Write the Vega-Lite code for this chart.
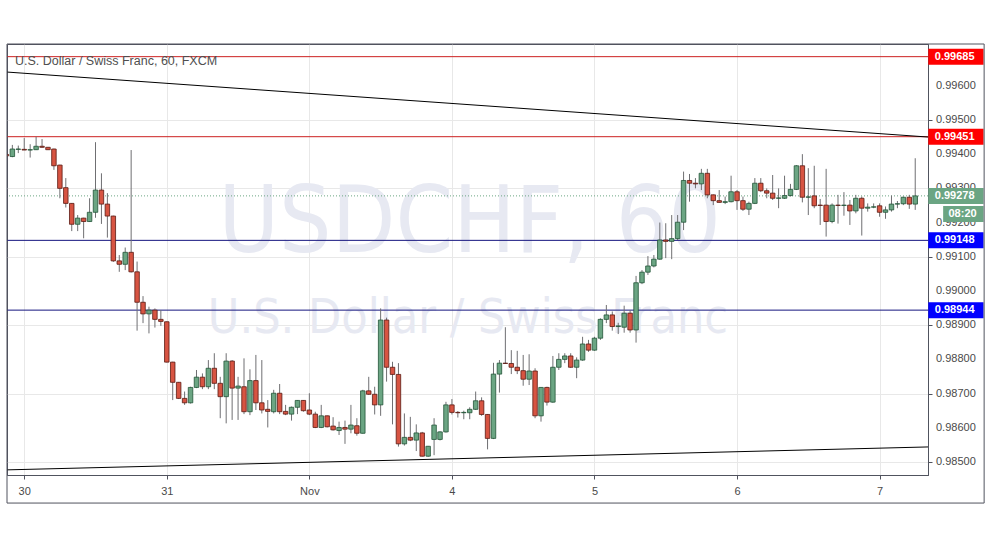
{
"$schema": "https://vega.github.io/schema/vega-lite/v6.json",
"width": 921, "height": 431,
"autosize": {"type": "none"},
"padding": {"left": 7, "top": 44, "right": 63, "bottom": 64},
"background": "white",
"config": {"view": {"stroke": "#50535e", "strokeWidth": 1}, "font": "Liberation Sans", "scale": {"continuousPadding": 0}, "axis": {"labelOverlap": false, "labelBound": false}},
"datasets": {
"candles": [
{"k":0,"o":0.99399,"h":0.99401,"l":0.99393,"c":0.99395},
{"k":1,"o":0.99393,"h":0.99427,"l":0.99391,"c":0.99415},
{"k":2,"o":0.99414,"h":0.99425,"l":0.99403,"c":0.99415},
{"k":3,"o":0.99414,"h":0.99447,"l":0.99412,"c":0.99412},
{"k":4,"o":0.99412,"h":0.99429,"l":0.99390,"c":0.99413},
{"k":5,"o":0.99413,"h":0.99451,"l":0.99412,"c":0.99423},
{"k":6,"o":0.99423,"h":0.99444,"l":0.99419,"c":0.99420},
{"k":7,"o":0.99420,"h":0.99421,"l":0.99412,"c":0.99413},
{"k":8,"o":0.99415,"h":0.99416,"l":0.99354,"c":0.99366},
{"k":9,"o":0.99368,"h":0.99369,"l":0.99271,"c":0.99300},
{"k":10,"o":0.99302,"h":0.99330,"l":0.99244,"c":0.99256},
{"k":11,"o":0.99256,"h":0.99257,"l":0.99175,"c":0.99195},
{"k":12,"o":0.99195,"h":0.99222,"l":0.99175,"c":0.99213},
{"k":13,"o":0.99213,"h":0.99214,"l":0.99154,"c":0.99203},
{"k":14,"o":0.99203,"h":0.99271,"l":0.99202,"c":0.99230},
{"k":15,"o":0.99230,"h":0.99435,"l":0.99214,"c":0.99295},
{"k":16,"o":0.99295,"h":0.99344,"l":0.99196,"c":0.99254},
{"k":17,"o":0.99254,"h":0.99286,"l":0.99156,"c":0.99219},
{"k":18,"o":0.99219,"h":0.99220,"l":0.99085,"c":0.99088},
{"k":19,"o":0.99088,"h":0.99105,"l":0.99056,"c":0.99078},
{"k":20,"o":0.99078,"h":0.99127,"l":0.99061,"c":0.99113},
{"k":21,"o":0.99113,"h":0.99412,"l":0.99054,"c":0.99056},
{"k":22,"o":0.99056,"h":0.99086,"l":0.98884,"c":0.98967},
{"k":23,"o":0.98967,"h":0.98985,"l":0.98906,"c":0.98933},
{"k":24,"o":0.98933,"h":0.98954,"l":0.98876,"c":0.98944},
{"k":25,"o":0.98944,"h":0.98949,"l":0.98893,"c":0.98917},
{"k":26,"o":0.98917,"h":0.98944,"l":0.98898,"c":0.98911},
{"k":27,"o":0.98910,"h":0.98911,"l":0.98791,"c":0.98792},
{"k":28,"o":0.98792,"h":0.98793,"l":0.98681,"c":0.98733},
{"k":29,"o":0.98733,"h":0.98734,"l":0.98684,"c":0.98686},
{"k":30,"o":0.98686,"h":0.98706,"l":0.98667,"c":0.98673},
{"k":31,"o":0.98673,"h":0.98720,"l":0.98671,"c":0.98718},
{"k":32,"o":0.98718,"h":0.98769,"l":0.98716,"c":0.98748},
{"k":33,"o":0.98748,"h":0.98759,"l":0.98713,"c":0.98720},
{"k":34,"o":0.98720,"h":0.98798,"l":0.98713,"c":0.98774},
{"k":35,"o":0.98774,"h":0.98818,"l":0.98713,"c":0.98730},
{"k":36,"o":0.98730,"h":0.98749,"l":0.98628,"c":0.98691},
{"k":37,"o":0.98691,"h":0.98818,"l":0.98613,"c":0.98795},
{"k":38,"o":0.98795,"h":0.98798,"l":0.98623,"c":0.98716},
{"k":39,"o":0.98716,"h":0.98749,"l":0.98623,"c":0.98722},
{"k":40,"o":0.98720,"h":0.98803,"l":0.98640,"c":0.98647},
{"k":41,"o":0.98647,"h":0.98771,"l":0.98637,"c":0.98738},
{"k":42,"o":0.98738,"h":0.98813,"l":0.98652,"c":0.98673},
{"k":43,"o":0.98673,"h":0.98798,"l":0.98642,"c":0.98652},
{"k":44,"o":0.98654,"h":0.98681,"l":0.98601,"c":0.98648},
{"k":45,"o":0.98647,"h":0.98711,"l":0.98642,"c":0.98701},
{"k":46,"o":0.98701,"h":0.98728,"l":0.98640,"c":0.98647},
{"k":47,"o":0.98648,"h":0.98667,"l":0.98637,"c":0.98640},
{"k":48,"o":0.98640,"h":0.98662,"l":0.98621,"c":0.98660},
{"k":49,"o":0.98660,"h":0.98681,"l":0.98640,"c":0.98680},
{"k":50,"o":0.98680,"h":0.98681,"l":0.98647,"c":0.98650},
{"k":51,"o":0.98652,"h":0.98701,"l":0.98637,"c":0.98640},
{"k":52,"o":0.98640,"h":0.98647,"l":0.98599,"c":0.98601},
{"k":53,"o":0.98601,"h":0.98667,"l":0.98599,"c":0.98635},
{"k":54,"o":0.98635,"h":0.98636,"l":0.98601,"c":0.98603},
{"k":55,"o":0.98605,"h":0.98631,"l":0.98592,"c":0.98594},
{"k":56,"o":0.98592,"h":0.98618,"l":0.98579,"c":0.98601},
{"k":57,"o":0.98601,"h":0.98621,"l":0.98553,"c":0.98596},
{"k":58,"o":0.98596,"h":0.98667,"l":0.98584,"c":0.98608},
{"k":59,"o":0.98606,"h":0.98628,"l":0.98577,"c":0.98584},
{"k":60,"o":0.98584,"h":0.98711,"l":0.98583,"c":0.98708},
{"k":61,"o":0.98708,"h":0.98749,"l":0.98696,"c":0.98698},
{"k":62,"o":0.98698,"h":0.98720,"l":0.98639,"c":0.98667},
{"k":63,"o":0.98667,"h":0.98949,"l":0.98635,"c":0.98915},
{"k":64,"o":0.98915,"h":0.98922,"l":0.98735,"c":0.98777},
{"k":65,"o":0.98777,"h":0.98793,"l":0.98610,"c":0.98756},
{"k":66,"o":0.98756,"h":0.98789,"l":0.98545,"c":0.98553},
{"k":67,"o":0.98553,"h":0.98642,"l":0.98548,"c":0.98572},
{"k":68,"o":0.98572,"h":0.98632,"l":0.98561,"c":0.98564},
{"k":69,"o":0.98564,"h":0.98610,"l":0.98532,"c":0.98585},
{"k":70,"o":0.98585,"h":0.98588,"l":0.98516,"c":0.98517},
{"k":71,"o":0.98517,"h":0.98547,"l":0.98515,"c":0.98546},
{"k":72,"o":0.98566,"h":0.98628,"l":0.98520,"c":0.98608},
{"k":73,"o":0.98566,"h":0.98590,"l":0.98563,"c":0.98588},
{"k":74,"o":0.98588,"h":0.98676,"l":0.98586,"c":0.98667},
{"k":75,"o":0.98667,"h":0.98684,"l":0.98639,"c":0.98645},
{"k":76,"o":0.98645,"h":0.98649,"l":0.98630,"c":0.98644},
{"k":77,"o":0.98644,"h":0.98650,"l":0.98625,"c":0.98645},
{"k":78,"o":0.98644,"h":0.98660,"l":0.98625,"c":0.98654},
{"k":79,"o":0.98654,"h":0.98706,"l":0.98652,"c":0.98679},
{"k":80,"o":0.98679,"h":0.98689,"l":0.98635,"c":0.98639},
{"k":81,"o":0.98639,"h":0.98640,"l":0.98537,"c":0.98569},
{"k":82,"o":0.98569,"h":0.98790,"l":0.98567,"c":0.98757},
{"k":83,"o":0.98757,"h":0.98798,"l":0.98703,"c":0.98789},
{"k":84,"o":0.98789,"h":0.98894,"l":0.98787,"c":0.98788},
{"k":85,"o":0.98788,"h":0.98827,"l":0.98757,"c":0.98777},
{"k":86,"o":0.98777,"h":0.98825,"l":0.98757,"c":0.98767},
{"k":87,"o":0.98767,"h":0.98813,"l":0.98723,"c":0.98742},
{"k":88,"o":0.98742,"h":0.98815,"l":0.98725,"c":0.98766},
{"k":89,"o":0.98766,"h":0.98774,"l":0.98628,"c":0.98635},
{"k":90,"o":0.98635,"h":0.98719,"l":0.98618,"c":0.98718},
{"k":91,"o":0.98718,"h":0.98720,"l":0.98665,"c":0.98675},
{"k":92,"o":0.98675,"h":0.98810,"l":0.98673,"c":0.98777},
{"k":93,"o":0.98777,"h":0.98818,"l":0.98769,"c":0.98800},
{"k":94,"o":0.98800,"h":0.98818,"l":0.98789,"c":0.98810},
{"k":95,"o":0.98810,"h":0.98818,"l":0.98775,"c":0.98777},
{"k":96,"o":0.98777,"h":0.98806,"l":0.98745,"c":0.98798},
{"k":97,"o":0.98798,"h":0.98866,"l":0.98796,"c":0.98845},
{"k":98,"o":0.98845,"h":0.98857,"l":0.98822,"c":0.98827},
{"k":99,"o":0.98827,"h":0.98866,"l":0.98825,"c":0.98862},
{"k":100,"o":0.98862,"h":0.98920,"l":0.98857,"c":0.98917},
{"k":101,"o":0.98917,"h":0.98959,"l":0.98906,"c":0.98930},
{"k":102,"o":0.98930,"h":0.98940,"l":0.98884,"c":0.98896},
{"k":103,"o":0.98896,"h":0.98907,"l":0.98874,"c":0.98898},
{"k":104,"o":0.98894,"h":0.98957,"l":0.98878,"c":0.98935},
{"k":105,"o":0.98935,"h":0.98944,"l":0.98878,"c":0.98886},
{"k":106,"o":0.98886,"h":0.99044,"l":0.98849,"c":0.99024},
{"k":107,"o":0.99024,"h":0.99061,"l":0.99020,"c":0.99055},
{"k":108,"o":0.99055,"h":0.99102,"l":0.99047,"c":0.99073},
{"k":109,"o":0.99073,"h":0.99105,"l":0.99069,"c":0.99093},
{"k":110,"o":0.99093,"h":0.99200,"l":0.99091,"c":0.99149},
{"k":111,"o":0.99149,"h":0.99198,"l":0.99096,"c":0.99145},
{"k":112,"o":0.99145,"h":0.99222,"l":0.99093,"c":0.99153},
{"k":113,"o":0.99153,"h":0.99222,"l":0.99149,"c":0.99201},
{"k":114,"o":0.99201,"h":0.99349,"l":0.99178,"c":0.99323},
{"k":115,"o":0.99323,"h":0.99342,"l":0.99261,"c":0.99315},
{"k":116,"o":0.99315,"h":0.99330,"l":0.99300,"c":0.99313},
{"k":117,"o":0.99313,"h":0.99357,"l":0.99295,"c":0.99344},
{"k":118,"o":0.99344,"h":0.99357,"l":0.99271,"c":0.99281},
{"k":119,"o":0.99281,"h":0.99282,"l":0.99251,"c":0.99264},
{"k":120,"o":0.99264,"h":0.99295,"l":0.99258,"c":0.99259},
{"k":121,"o":0.99259,"h":0.99276,"l":0.99254,"c":0.99261},
{"k":122,"o":0.99261,"h":0.99337,"l":0.99259,"c":0.99290},
{"k":123,"o":0.99290,"h":0.99295,"l":0.99237,"c":0.99264},
{"k":124,"o":0.99264,"h":0.99276,"l":0.99234,"c":0.99239},
{"k":125,"o":0.99239,"h":0.99261,"l":0.99222,"c":0.99256},
{"k":126,"o":0.99256,"h":0.99330,"l":0.99254,"c":0.99315},
{"k":127,"o":0.99315,"h":0.99330,"l":0.99289,"c":0.99293},
{"k":128,"o":0.99293,"h":0.99300,"l":0.99271,"c":0.99286},
{"k":129,"o":0.99286,"h":0.99339,"l":0.99266,"c":0.99271},
{"k":130,"o":0.99271,"h":0.99300,"l":0.99242,"c":0.99272},
{"k":131,"o":0.99271,"h":0.99337,"l":0.99269,"c":0.99279},
{"k":132,"o":0.99279,"h":0.99313,"l":0.99276,"c":0.99297},
{"k":133,"o":0.99297,"h":0.99368,"l":0.99295,"c":0.99366},
{"k":134,"o":0.99366,"h":0.99400,"l":0.99259,"c":0.99274},
{"k":135,"o":0.99274,"h":0.99359,"l":0.99222,"c":0.99275},
{"k":136,"o":0.99278,"h":0.99366,"l":0.99242,"c":0.99249},
{"k":137,"o":0.99251,"h":0.99269,"l":0.99193,"c":0.99250},
{"k":138,"o":0.99251,"h":0.99357,"l":0.99159,"c":0.99203},
{"k":139,"o":0.99203,"h":0.99256,"l":0.99198,"c":0.99251},
{"k":140,"o":0.99251,"h":0.99281,"l":0.99197,"c":0.99250},
{"k":141,"o":0.99250,"h":0.99289,"l":0.99220,"c":0.99251},
{"k":142,"o":0.99251,"h":0.99266,"l":0.99193,"c":0.99234},
{"k":143,"o":0.99234,"h":0.99281,"l":0.99227,"c":0.99271},
{"k":144,"o":0.99271,"h":0.99276,"l":0.99162,"c":0.99242},
{"k":145,"o":0.99242,"h":0.99256,"l":0.99232,"c":0.99245},
{"k":146,"o":0.99245,"h":0.99256,"l":0.99242,"c":0.99246},
{"k":147,"o":0.99249,"h":0.99256,"l":0.99217,"c":0.99230},
{"k":148,"o":0.99230,"h":0.99247,"l":0.99211,"c":0.99237},
{"k":149,"o":0.99237,"h":0.99279,"l":0.99232,"c":0.99254},
{"k":150,"o":0.99254,"h":0.99263,"l":0.99242,"c":0.99255},
{"k":151,"o":0.99255,"h":0.99276,"l":0.99251,"c":0.99274},
{"k":152,"o":0.99274,"h":0.99281,"l":0.99240,"c":0.99254},
{"k":153,"o":0.99254,"h":0.99388,"l":0.99237,"c":0.99278}
],
"levels": [
{"p":0.99685,"kind":"resistance"},
{"p":0.99451,"kind":"resistance"},
{"p":0.99148,"kind":"support"},
{"p":0.98944,"kind":"support"}
],
"tags": [
{"p":0.99685,"label":"0.99685","kind":"resistance"},
{"p":0.99451,"label":"0.99451","kind":"resistance"},
{"p":0.99278,"label":"0.99278","kind":"price"},
{"p":0.99148,"label":"0.99148","kind":"support"},
{"p":0.98944,"label":"0.98944","kind":"support"}
],
"yticks": [
{"p":0.985,"label":"0.98500"},{"p":0.986,"label":"0.98600"},{"p":0.987,"label":"0.98700"},
{"p":0.988,"label":"0.98800"},{"p":0.989,"label":"0.98900"},{"p":0.990,"label":"0.99000"},
{"p":0.991,"label":"0.99100"},{"p":0.992,"label":"0.99200"},{"p":0.993,"label":"0.99300"},
{"p":0.994,"label":"0.99400"},{"p":0.995,"label":"0.99500"},{"p":0.996,"label":"0.99600"}
],
"trend": [
{"line":"upper","k":0.1,"p":0.99640},
{"line":"upper","k":155.15,"p":0.99450},
{"line":"lower","k":0.1,"p":0.98477},
{"line":"lower","k":155.15,"p":0.98544}
]
},
"layer": [
{
"data": {"values": [{"label": "USDCHF, 60"}]},
"mark": {"type": "text", "font": "Liberation Sans Narrow, DejaVu Sans Condensed, Liberation Sans", "fontSize": 92, "align": "center", "baseline": "alphabetic", "color": "#e7e9f2"},
"encoding": {
"x": {"datum": 78, "type": "quantitative", "scale": {"domain": [0.1, 155.15], "nice": false, "zero": false, "padding": 0},
"axis": {"orient": "bottom", "values": [3, 27, 51, 75, 99, 123, 147],
"labelExpr": "datum.value==3?'30':datum.value==27?'31':datum.value==51?'Nov':datum.value==75?'4':datum.value==99?'5':datum.value==123?'6':'7'",
"title": null, "grid": true, "gridColor": "#e8e8e8", "tickColor": "#50535e", "tickSize": 4, "labelColor": "#4a4a4a", "labelFontSize": 11, "labelPadding": 6, "labelOverlap": false, "domainColor": "#50535e"}},
"y": {"datum": 0.99114, "type": "quantitative", "scale": {"domain": [0.98462, 0.99722], "nice": false, "zero": false, "padding": 0},
"axis": {"orient": "right", "values": [0.985, 0.986, 0.987, 0.988, 0.989, 0.990, 0.991, 0.992, 0.993, 0.994, 0.995, 0.996],
"labels": false, "title": null, "grid": true, "gridColor": "#e8e8e8", "tickColor": "#50535e", "tickSize": 4, "domainColor": "#50535e"}},
"text": {"field": "label"}
}
},
{
"data": {"values": [{"label": "U.S. Dollar / Swiss Franc"}]},
"mark": {"type": "text", "font": "Liberation Sans Narrow, DejaVu Sans Condensed, Liberation Sans", "fontSize": 48, "align": "center", "baseline": "alphabetic", "color": "#e7e9f2"},
"encoding": {
"x": {"datum": 77.7, "type": "quantitative"},
"y": {"datum": 0.98877, "type": "quantitative"},
"text": {"field": "label"}
}
},
{
"data": {"name": "levels"},
"mark": {"type": "rule", "strokeWidth": 1, "clip": true},
"encoding": {
"y": {"field": "p", "type": "quantitative"},
"color": {"condition": {"test": "datum.kind == 'resistance'", "value": "#cc2020"}, "value": "#15157f"}
}
},
{
"data": {"values": [{"p": 0.99278}]},
"mark": {"type": "rule", "strokeWidth": 1, "strokeDash": [1, 2], "color": "#6ba583", "clip": true},
"encoding": {
"y": {"field": "p", "type": "quantitative"}
}
},
{
"data": {"name": "trend"},
"mark": {"type": "line", "color": "#000000", "strokeWidth": 1, "clip": true},
"encoding": {
"x": {"field": "k", "type": "quantitative"},
"y": {"field": "p", "type": "quantitative"},
"detail": {"field": "line"}
}
},
{
"data": {"name": "candles"},
"mark": {"type": "rule", "color": "#6f6f72", "strokeWidth": 1, "clip": true},
"encoding": {
"x": {"field": "k", "type": "quantitative"},
"y": {"field": "l", "type": "quantitative"},
"y2": {"field": "h"}
}
},
{
"data": {"name": "candles"},
"mark": {"type": "bar", "size": 4.5, "strokeWidth": 0.8, "clip": true},
"encoding": {
"x": {"field": "k", "type": "quantitative"},
"y": {"field": "o", "type": "quantitative"},
"y2": {"field": "c"},
"fill": {"condition": {"test": "datum.c >= datum.o", "value": "#6ba583"}, "value": "#d75442"},
"stroke": {"condition": {"test": "datum.c >= datum.o", "value": "#225437"}, "value": "#5b1a13"}
}
},
{
"data": {"values": [{"label": "U.S. Dollar / Swiss Franc, 60, FXCM"}]},
"mark": {"type": "text", "align": "left", "baseline": "middle", "fontSize": 12.5, "color": "#4f4f4f"},
"encoding": {
"x": {"datum": 1.45, "type": "quantitative"},
"y": {"datum": 0.99673, "type": "quantitative"},
"text": {"field": "label"}
}
},
{
"data": {"name": "yticks"},
"mark": {"type": "text", "align": "left", "baseline": "middle", "dx": 8, "fontSize": 11, "color": "#4a4a4a", "clip": false},
"encoding": {
"x": {"datum": 155.15, "type": "quantitative"},
"y": {"field": "p", "type": "quantitative"},
"text": {"field": "label"}
}
},
{
"data": {"name": "tags"},
"mark": {"type": "bar", "size": 16, "clip": false},
"encoding": {
"x": {"datum": 155.2, "type": "quantitative"},
"x2": {"datum": 164.5},
"y": {"field": "p", "type": "quantitative"},
"color": {"condition": [{"test": "datum.kind == 'resistance'", "value": "#ff0000"}, {"test": "datum.kind == 'price'", "value": "#6ba583"}], "value": "#0000ff"}
}
},
{
"data": {"name": "tags"},
"mark": {"type": "text", "align": "left", "baseline": "middle", "fontSize": 11, "fontWeight": "bold", "color": "#ffffff", "clip": false},
"encoding": {
"x": {"datum": 156.3, "type": "quantitative"},
"y": {"field": "p", "type": "quantitative"},
"text": {"field": "label"}
}
},
{
"data": {"values": [{"p": 0.99278, "label": "08:20"}]},
"mark": {"type": "bar", "size": 16, "yOffset": 18, "color": "#6ba583", "clip": false},
"encoding": {
"x": {"datum": 157.7, "type": "quantitative"},
"x2": {"datum": 164.5},
"y": {"field": "p", "type": "quantitative"}
}
},
{
"data": {"values": [{"p": 0.99278, "label": "08:20"}]},
"mark": {"type": "text", "align": "left", "baseline": "middle", "yOffset": 18, "fontSize": 11, "fontWeight": "bold", "color": "#ffffff", "clip": false},
"encoding": {
"x": {"datum": 158.6, "type": "quantitative"},
"y": {"field": "p", "type": "quantitative"},
"text": {"field": "label"}
}
},
{
"data": {"values": [{"frame": "outer"}]},
"mark": {"type": "rect", "fill": null, "fillOpacity": 0, "stroke": "#50535e", "strokeWidth": 1, "clip": false},
"encoding": {
"x": {"datum": 0.1, "type": "quantitative"},
"x2": {"datum": 164.6},
"y": {"datum": 0.98380, "type": "quantitative"},
"y2": {"datum": 0.99722}
}
}
]
}
